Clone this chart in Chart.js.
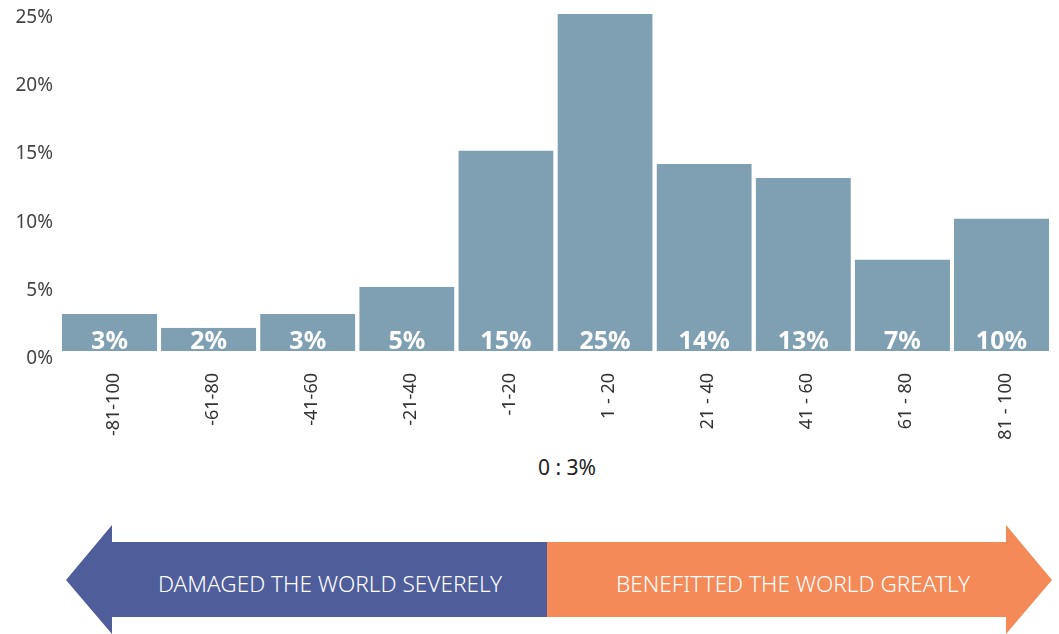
<!DOCTYPE html>
<html>
<head>
<meta charset="utf-8">
<script src="https://cdn.jsdelivr.net/npm/chart.js@4"></script>
<style>
  html, body { margin: 0; padding: 0; background: #fff; }
  #wrap { position: relative; width: 1059px; height: 634px; font-family: "Noto Sans", sans-serif; }
  #chartBox { position: absolute; left: 0; top: 0; width: 1059px; height: 450px; }
  #zero { position: absolute; left: 467px; width: 200px; top: 453px; line-height: 28px; text-align: center; font-size: 21px; color: #222; }
  .arrow { position: absolute; top: 525px; height: 109px; }
  #left { left: 66px; width: 481px; background: #4f5d9b;
    clip-path: polygon(0px 55px, 46px 0px, 46px 17px, 481px 17px, 481px 92px, 46px 92px, 46px 109px); }
  #right { left: 547px; width: 505px; background: #f38a57;
    clip-path: polygon(0px 17px, 459px 17px, 459px 0px, 505px 55px, 459px 109px, 459px 92px, 0px 92px); }
  .atext { position: absolute; top: 569px; width: 480px; line-height: 30px; text-align: center; color: #fff; font-size: 22.6px; font-weight: 300; }
</style>
</head>
<body>
<div id="wrap">
  <div id="chartBox"><canvas id="c"></canvas></div>
  <div id="zero">0 : 3%</div>
  <div class="arrow" id="left"></div>
  <div class="arrow" id="right"></div>
  <div class="atext" style="left:90px">DAMAGED THE WORLD SEVERELY</div>
  <div class="atext" style="left:553px">BENEFITTED THE WORLD GREATLY</div>
</div>
<script>
const categories = ["-81-100", "-61-80", "-41-60", "-21-40", "-1-20", "1 - 20", "21 - 40", "41 - 60", "61 - 80", "81 - 100"];
const shares = [3, 2, 3, 5, 15, 25, 14, 13, 7, 10];
const yTicks = [0, 5, 10, 15, 20, 25];
const labelShift = 0.257;

const barLabels = {
  id: 'barLabels',
  afterDatasetsDraw(chart) {
    const ctx = chart.ctx;
    const meta = chart.getDatasetMeta(0);
    ctx.save();
    ctx.fillStyle = '#ffffff';
    ctx.font = 'bold 25px "Noto Sans"';
    ctx.textAlign = 'center';
    ctx.textBaseline = 'alphabetic';
    meta.data.forEach((bar, i) => {
      ctx.fillText(shares[i] + '%', bar.x, bar.base - 6);
    });
    ctx.restore();
  }
};

new Chart(document.getElementById('c'), {
  type: 'bar',
  data: {
    labels: categories,
    datasets: [{
      data: shares,
      yAxisID: 'y',
      backgroundColor: '#7f9fb3',
      borderColor: '#ffffff',
      borderWidth: { top: 0, left: 0, right: 0, bottom: 4 },
      borderSkipped: false,
      barPercentage: 0.961,
      categoryPercentage: 1
    }]
  },
  options: {
    responsive: true,
    maintainAspectRatio: false,
    animation: false,
    layout: { padding: { top: 14, right: 8, left: 0, bottom: 0 } },
    plugins: { legend: { display: false }, tooltip: { enabled: false } },
    scales: {
      x: {
        grid: { display: false, drawTicks: false },
        border: { display: false },
        ticks: {
          minRotation: 90, maxRotation: 90, padding: 18, labelOffset: 4,
          color: '#333', font: { family: '"Noto Sans"', size: 18 }
        },
        afterFit(s) { s.height = 95; }
      },
      y: {
        display: false,
        min: 0, max: 25
      },
      yl: {
        position: 'left',
        display: true,
        min: labelShift, max: 25 + labelShift,
        grid: { display: false, drawTicks: false },
        border: { display: false },
        afterBuildTicks(s) { s.ticks = yTicks.map(v => ({ value: v })); },
        ticks: {
          padding: 7,
          color: '#444', font: { family: '"Noto Sans"', size: 19 },
          callback: v => v + '%'
        },
        afterFit(s) { s.width = 60; s.paddingTop = 0; s.paddingBottom = 0; }
      }
    }
  },
  plugins: [barLabels]
});
</script>
</body>
</html>
